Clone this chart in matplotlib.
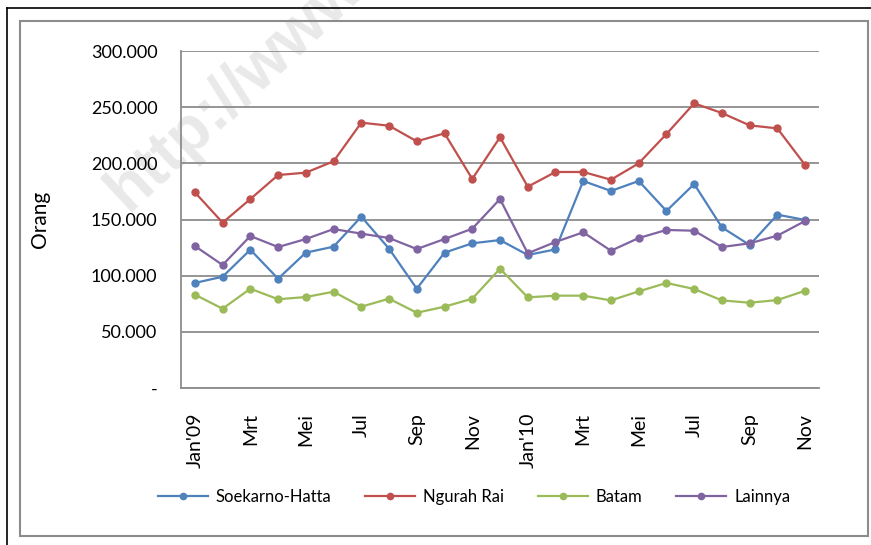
import matplotlib
matplotlib.use("Agg")
import matplotlib.pyplot as plt
from matplotlib.lines import Line2D
from matplotlib.patches import Rectangle
from matplotlib.ticker import FuncFormatter

# --- data, Jan'09 .. Nov'10 ---
months = ["Jan'09", "Feb", "Mrt", "Apr", "Mei", "Jun", "Jul", "Agt", "Sep", "Okt", "Nov", "Des",
          "Jan'10", "Feb", "Mrt", "Apr", "Mei", "Jun", "Jul", "Agt", "Sep", "Okt", "Nov"]

soekarno_hatta = [93500, 99100, 123100, 97300, 120500, 125800, 152500, 124000, 88400, 120500, 128800, 131700,
                  118400, 123400, 184300, 175400, 184300, 157600, 181600, 143000, 127300, 154300, 149600]
ngurah_rai = [174200, 147200, 168200, 189600, 191700, 201800, 236200, 233500, 219600, 226700, 186100, 223200,
              179200, 192300, 192300, 185400, 200000, 226100, 253400, 244800, 233800, 231100, 198500]
batam = [83100, 70600, 88400, 79000, 81000, 85700, 72400, 79500, 67000, 72400, 79500, 106200,
         80700, 82200, 82200, 78000, 86000, 93500, 88100, 78000, 75900, 78300, 86600]
lainnya = [126400, 109500, 135300, 125500, 132600, 141500, 137400, 133500, 123700, 132600, 141800, 168200,
           119900, 130000, 138600, 122200, 133500, 140700, 140000, 125500, 128800, 135600, 148700]

series_names = ["Soekarno-Hatta", "Ngurah Rai", "Batam", "Lainnya"]
series_values = [soekarno_hatta, ngurah_rai, batam, lainnya]
series_colors = ["#4F81BD", "#C0504D", "#9BBB59", "#8064A2"]

y_ticks = [0, 50000, 100000, 150000, 200000, 250000, 300000]

W, H = 871, 545
fig = plt.figure(figsize=(W / 100, H / 100), dpi=100)

# faint watermark behind the chart (cut off at the top edge, as in the source)
fig.text(128 / W, 1 - 212 / H, "http://www.bps.go.id", fontsize=46, fontweight="bold",
         family="Liberation Sans", color="#e9e9e9", rotation=43, rotation_mode="anchor",
         ha="left", va="baseline", zorder=-1)

# frames: black outer lines (top/left) + grey chart-area border
fig.add_artist(Line2D([7 / W, 7 / W], [0, 1 - 8 / H], color="black", lw=1.2))
fig.add_artist(Line2D([7 / W, 1], [1 - 8 / H, 1 - 8 / H], color="black", lw=1.2))
fig.add_artist(Rectangle((20 / W, 1 - 536 / H), (868 - 20) / W, (536 - 21) / H,
                         fill=False, edgecolor="#8c8c8c", lw=1.5))

ax = fig.add_axes([181 / W, 1 - 388 / H, (819 - 181) / W, (388 - 51) / H])
ax.set_facecolor("none")

x = list(range(len(months)))
for name, vals, col in zip(series_names, series_values, series_colors):
    ax.plot(x, vals, color=col, lw=1.6, marker="o", markersize=5, label=name)

ax.set_xlim(-0.5, len(months) - 0.5)
ax.set_ylim(0, 300000)
ax.set_yticks(y_ticks)
ax.yaxis.set_major_formatter(FuncFormatter(
    lambda v, p: "-" if v == 0 else f"{int(v):,}".replace(",", ".")))
ax.grid(axis="y", color="#8c8c8c", lw=1.3)
ax.set_axisbelow(True)

ax.set_xticks(x[::2])
ax.set_xticklabels(months[::2], rotation=90)

for s in ["top", "right"]:
    ax.spines[s].set_visible(False)
for s in ["left", "bottom"]:
    ax.spines[s].set_color("#8c8c8c")
    ax.spines[s].set_linewidth(1.3)

ax.tick_params(axis="x", length=0, pad=18, labelsize=14)
ax.tick_params(axis="y", length=0, pad=17, labelsize=13)
for lab in ax.get_xticklabels() + ax.get_yticklabels():
    lab.set_family("Lato")

ax.set_ylabel("Orang", fontsize=15, family="Lato")
ax.yaxis.set_label_coords(-0.205, 0.5)

fig.legend(loc="center", bbox_to_anchor=(474 / W, 1 - 497 / H), ncol=4, frameon=False,
           prop={"family": "Lato", "size": 12}, handlelength=3.0, handletextpad=0.5,
           columnspacing=2.0, markerscale=0.9)

fig.savefig("out.png", dpi=100)
